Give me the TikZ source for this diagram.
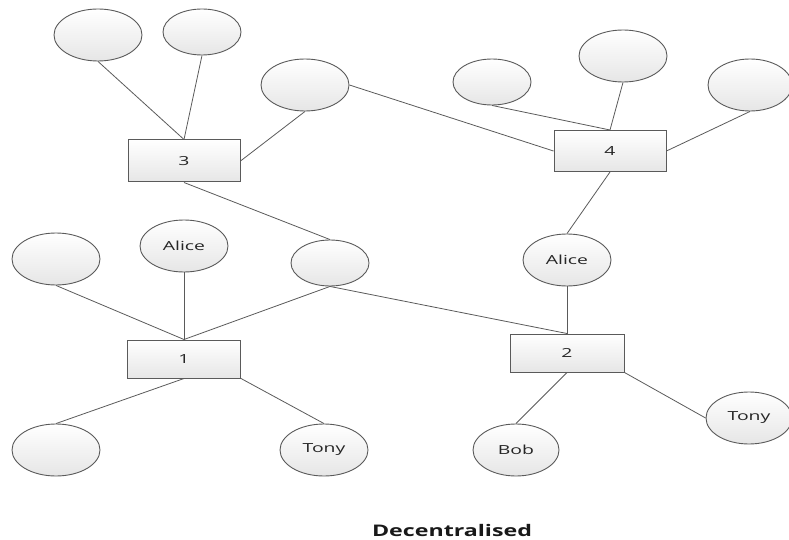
\documentclass[tikz,border=0pt]{standalone}
\usepackage{fontspec}
\usepackage{tikz}
\usetikzlibrary{shapes.geometric, positioning}
\newfontfamily\labelfont[FakeStretch=1.55]{Open Sans}
\newfontfamily\titlefont[FakeStretch=1.45]{Open Sans}
\definecolor{edgegray}{HTML}{5A5A5A}
\definecolor{fillgray}{HTML}{E6E6E6}

\begin{document}
\begin{tikzpicture}[x=1pt, y=-1pt,
		peer/.style={ellipse, draw=edgegray, line width=0.9pt, top color=white, bottom color=fillgray, minimum width=88pt, minimum height=52pt, inner sep=0pt, font=\labelfont\fontsize{12.5}{13}\selectfont, text=black!85},
		smallpeer/.style={peer, minimum width=78pt, minimum height=46pt},
		hub/.style={rectangle, draw=edgegray, line width=1pt, top color=white, bottom color=fillgray, minimum width=112pt, minimum height=40pt, inner sep=0pt, font=\labelfont\fontsize{12.5}{13}\selectfont, text=black!85},
		link/.style={draw=edgegray, line width=0.8pt}]
		\useasboundingbox (0,0) rectangle (789,540);
		\draw (98,35) node[peer] (pA) {}
		(202,32) node[smallpeer] (pB) {}
		(305,85) node[peer] (pC) {}
		(492,82) node[smallpeer] (pD) {}
		(623,56) node[peer] (pE) {}
		(750,85) node[peer, minimum width=84pt] (pF) {}
		(184,161) node[hub, minimum height=42pt] (n3) {3}
		(610,151) node[hub, minimum height=41pt] (n4) {4}
		(56,259) node[peer] (pG) {}
		(184,246) node[peer] (aliceL) {Alice}
		(330,263) node[smallpeer] (pH) {}
		(567,260) node[peer] (aliceR) {Alice}
		(184,359) node[hub, minimum width=113pt, minimum height=38pt] (n1) {1}
		(567,353) node[hub, minimum width=114pt, minimum height=38pt] (n2) {2}
		(56,450) node[peer] (pI) {}
		(324,450) node[peer] (tonyL) {Tony}
		(516,450) node[peer, minimum width=86pt] (bob) {Bob}
		(749,418) node[peer, minimum width=86pt] (tonyR) {Tony};

		\node[anchor=base, font=\titlefont\bfseries\fontsize{16}{18}\selectfont, text=black!90] (title) at (452,536) {Decentralised};

		\draw[link] (pA.south) -- (n3.north);
		\draw[link] (pB.south) -- (n3.north);
		\draw[link] (pC.south) -- (n3.east);
		\draw[link] (pC.east) -- (n4.west);
		\draw[link] (n3.south) -- (pH.north);
		\draw[link] (pD.south) -- (n4.north);
		\draw[link] (pE.south) -- (n4.north);
		\draw[link] (pF.south) -- (n4.east);
		\draw[link] (n4.south) -- (aliceR.north);
		\draw[link] (aliceR.south) -- (n2.north);
		\draw[link] (pH.south) -- (n2.north);
		\draw[link] (pH.south) -- (n1.north);
		\draw[link] (pG.south) -- (n1.north);
		\draw[link] (aliceL.south) -- (n1.north);
		\draw[link] (n1.south) -- (pI.north);
		\draw[link] (n1.south east) -- (tonyL.north);
		\draw[link] (n2.south) -- (bob.north);
		\draw[link] (n2.south east) -- (tonyR.west);
	\end{tikzpicture}
\end{document}
